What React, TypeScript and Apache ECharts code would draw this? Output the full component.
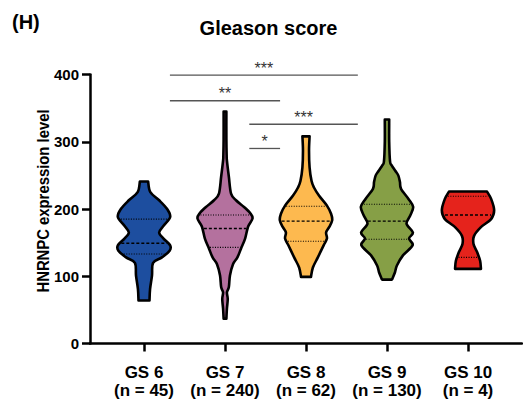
import React, { useEffect, useRef } from 'react';
import * as echarts from 'echarts';

const categories = ['GS 6', 'GS 7', 'GS 8', 'GS 9', 'GS 10'];
const sampleSizes = [45, 240, 62, 130, 4];
const violinColors = ['#1d4e9f', '#b4719e', '#fdb94f', '#869f46', '#e5231c'];

// [expression value, relative density] from top to bottom
const gs6Profile = [
  [241, 0.15], [225, 0.23], [213, 0.55], [200, 0.84], [188, 0.95], [175, 0.71], [165, 0.55],
  [156, 0.71], [146, 0.95], [138, 0.93], [128, 0.65], [120, 0.33], [101, 0.29], [81, 0.22], [64, 0.2],
];
const gs7Profile = [
  [345, 0.05], [304, 0.05], [280, 0.06], [272, 0.07], [248, 0.14], [223, 0.22], [213, 0.4],
  [203, 0.69], [194, 0.91], [186, 1.0], [174, 0.84], [156, 0.73], [141, 0.58], [128, 0.45],
  [118, 0.29], [101, 0.18], [84, 0.14], [76, 0.07], [66, 0.1], [52, 0.07], [37, 0.05],
];
const gs8Profile = [
  [308, 0.13], [287, 0.11], [262, 0.13], [242, 0.2], [232, 0.29], [220, 0.47], [205, 0.76],
  [193, 0.91], [183, 0.95], [173, 0.84], [165, 0.73], [156, 0.76], [146, 0.64], [128, 0.43],
  [113, 0.25], [99, 0.18],
];
const gs9Profile = [
  [333, 0.08], [300, 0.08], [271, 0.11], [265, 0.17], [257, 0.3], [250, 0.41], [240, 0.47],
  [230, 0.51], [215, 0.78], [203, 0.95], [190, 0.84], [178, 0.71], [165, 0.94], [156, 0.8],
  [146, 0.93], [131, 0.58], [116, 0.36], [106, 0.29], [95, 0.18],
];
const gs10Profile = [
  [226, 0.69], [215, 0.84], [198, 0.95], [185, 0.84], [173, 0.47], [160, 0.22], [148, 0.2],
  [136, 0.33], [123, 0.44], [111, 0.47],
];
const profiles = [gs6Profile, gs7Profile, gs8Profile, gs9Profile, gs10Profile];

// [Q1, median, Q3]
const quartiles = [
  [133, 149, 185],
  [143, 171, 191],
  [152, 182, 204],
  [155, 182, 207],
  [128, 191, 219],
];

// significance brackets: [x start, x end, level, label]
const comparisons: [number, number, number, string][] = [
  [0.32, 2.64, 399, '***'],
  [0.32, 1.68, 361, '**'],
  [1.3, 2.64, 326, '***'],
  [1.3, 1.68, 290, '*'],
];

const yTicks = [0, 100, 200, 300, 400];

function catmull(pts: number[][]): string {
  let d = '';
  for (let i = 0; i < pts.length - 1; i++) {
    const p0 = pts[i - 1] || pts[i];
    const p1 = pts[i];
    const p2 = pts[i + 1];
    const p3 = pts[i + 2] || p2;
    const c1x = p1[0] + (p2[0] - p0[0]) / 6;
    const c1y = p1[1] + (p2[1] - p0[1]) / 6;
    const c2x = p2[0] - (p3[0] - p1[0]) / 6;
    const c2y = p2[1] - (p3[1] - p1[1]) / 6;
    d += ` C${c1x},${c1y} ${c2x},${c2y} ${p2[0]},${p2[1]}`;
  }
  return d;
}

function densityAt(prof: number[][], v: number): number {
  for (let k = 0; k < prof.length - 1; k++) {
    const a = prof[k];
    const b = prof[k + 1];
    if (v <= a[0] && v >= b[0]) {
      const t = (a[0] - v) / (a[0] - b[0]);
      return a[1] + (b[1] - a[1]) * t;
    }
  }
  return 0;
}

const FONT = '"Liberation Sans", Arial, Helvetica, sans-serif';

export default function App() {
  const ref = useRef<HTMLDivElement>(null);
  useEffect(() => {
    if (!ref.current) return;
    const chart = echarts.init(ref.current, undefined, { renderer: 'svg' });
    const option: any = {
      animation: false,
      backgroundColor: '#ffffff',
      textStyle: { fontFamily: FONT },
      grid: {
        left: 90,
        right: 1,
        top: 74.5,
        bottom: 58.5,
        containLabel: false,
        outerBoundsMode: 'none',
      },
      xAxis: {
        type: 'value',
        min: -2 / 3,
        max: 14 / 3,
        splitLine: { show: false },
        axisLine: { show: true, onZero: false, lineStyle: { color: '#000', width: 2.5 } },
        axisTick: {
          show: true,
          customValues: [0, 1, 2, 3, 4],
          length: 8,
          lineStyle: { color: '#000', width: 2.5 },
        },
        axisLabel: {
          show: true,
          customValues: [0, 1, 2, 3, 4],
          formatter: (v: number) => {
            const i = Math.round(v);
            return `${categories[i]}\n(n = ${sampleSizes[i]})`;
          },
          color: '#000',
          fontWeight: 'bold',
          fontSize: 17,
          lineHeight: 18,
          margin: 20,
          fontFamily: FONT,
        },
      },
      yAxis: {
        type: 'value',
        min: yTicks[0],
        max: yTicks[yTicks.length - 1],
        interval: 100,
        splitLine: { show: false },
        axisLine: { show: true, onZero: false, lineStyle: { color: '#000', width: 2.5 } },
        axisTick: { show: true, length: 8, lineStyle: { color: '#000', width: 2.5 } },
        axisLabel: {
          color: '#000',
          fontWeight: 'bold',
          fontSize: 15,
          margin: 11,
          fontFamily: FONT,
        },
      },
      graphic: [
        {
          type: 'text',
          left: 12,
          top: 12,
          style: { text: '(H)', font: `bold 20px ${FONT}`, fill: '#000' },
        },
        {
          type: 'text',
          x: 268.5,
          y: 28,
          style: {
            text: 'Gleason score',
            font: `bold 20px ${FONT}`,
            fill: '#000',
            align: 'center',
            verticalAlign: 'middle',
          },
        },
        {
          type: 'text',
          x: 43,
          y: 201,
          rotation: Math.PI / 2,
          scaleX: 0.9,
          style: {
            text: 'HNRNPC expression level',
            font: `bold 16.5px ${FONT}`,
            fill: '#000',
            align: 'center',
            verticalAlign: 'middle',
          },
        },
      ],
      series: [
        {
          type: 'custom',
          coordinateSystem: 'cartesian2d',
          clip: false,
          silent: true,
          data: quartiles.map((q, i) => [i, q[1]]),
          renderItem: (params: any, api: any) => {
            const i = params.dataIndex;
            const prof = profiles[i];
            const center = api.coord([i, 0])[0];
            const unit = api.size([1, 0])[0];
            const maxHalf = unit * 0.34;
            const right = prof.map(([v, dd]) => [center + dd * maxHalf, api.coord([i, v])[1]]);
            const left = prof
              .slice()
              .reverse()
              .map(([v, dd]) => [center - dd * maxHalf, api.coord([i, v])[1]]);
            const d =
              `M${right[0][0]},${right[0][1]}` +
              catmull(right) +
              ` L${left[0][0]},${left[0][1]}` +
              catmull(left) +
              ' Z';
            const children: any[] = [
              {
                type: 'path',
                shape: { pathData: d },
                style: {
                  fill: violinColors[i],
                  stroke: '#000',
                  lineWidth: 2.6,
                  lineJoin: 'round',
                },
              },
            ];
            quartiles[i].forEach((q, k) => {
              const y = api.coord([i, q])[1];
              const hw = densityAt(prof, q) * maxHalf - 1.5;
              children.push({
                type: 'line',
                shape: { x1: center - hw, y1: y, x2: center + hw, y2: y },
                style: {
                  stroke: '#000',
                  lineWidth: k === 1 ? 1.4 : 1.1,
                  lineDash: k === 1 ? [3, 2] : [1, 1.5],
                },
              });
            });
            return { type: 'group', children };
          },
          z: 2,
        },
        {
          type: 'custom',
          coordinateSystem: 'cartesian2d',
          clip: false,
          silent: true,
          data: comparisons.map((c) => [c[0], c[2]]),
          renderItem: (params: any, api: any) => {
            const c = comparisons[params.dataIndex];
            const p1 = api.coord([c[0], c[2]]);
            const p2 = api.coord([c[1], c[2]]);
            return {
              type: 'group',
              children: [
                {
                  type: 'line',
                  shape: { x1: p1[0], y1: p1[1], x2: p2[0], y2: p2[1] },
                  style: { stroke: '#555', lineWidth: 1.3 },
                },
                {
                  type: 'text',
                  style: {
                    text: c[3],
                    x: (p1[0] + p2[0]) / 2,
                    y: p1[1] - 7,
                    align: 'center',
                    verticalAlign: 'middle',
                    font: `normal 16px ${FONT}`,
                    fill: '#333',
                  },
                },
              ],
            };
          },
          z: 3,
        },
      ],
    };
    chart.setOption(option);
    return () => chart.dispose();
  }, []);
  return (
    <div
      ref={ref}
      style={{ position: 'absolute', left: 0, top: 0, width: 523, height: 402 }}
    />
  );
}
